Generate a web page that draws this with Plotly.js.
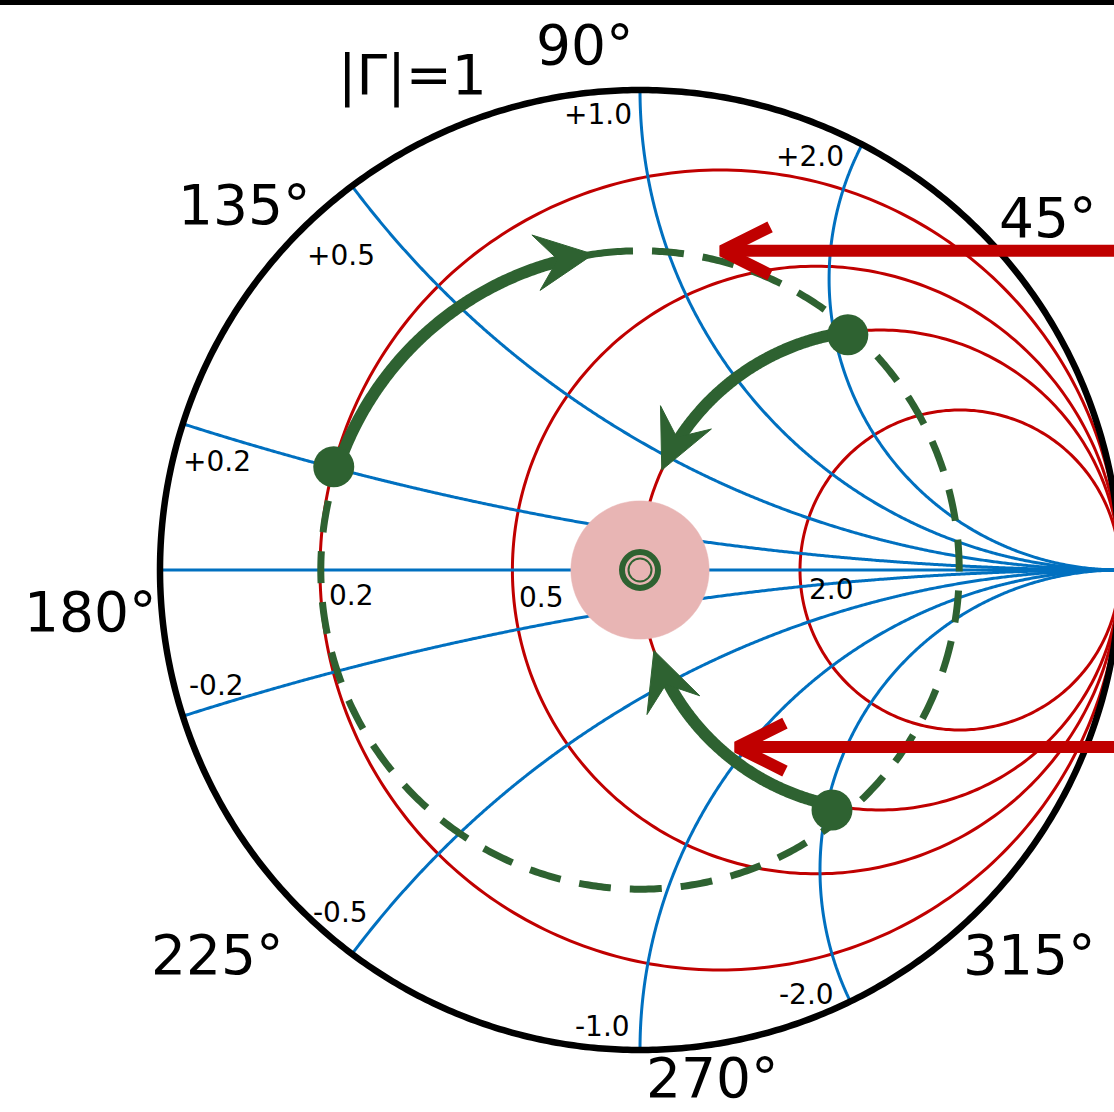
<!DOCTYPE html>
<html><head><meta charset="utf-8">
<script src="https://cdn.plot.ly/plotly-3.0.1.min.js"></script>
<style>html,body{margin:0;padding:0;background:#fff;overflow:hidden}</style>
</head><body><div id="chart" style="width:1114px;height:1112px"></div>
<script>
// ---- chart values (as drawn) ----
const resistanceValues = [0.2, 0.58, 1, 2];
const resistanceLabels = ['0.2', '0.5', '2.0'];
const reactanceValues = [0, 0.156, 0.5, 1, 1.65, -0.156, -0.5, -1, -1.6];
const reactanceLabels = ['+0.2', '+0.5', '+1.0', '+2.0', '-0.2', '-0.5', '-1.0', '-2.0'];
const angleLabels = ['90°', '135°', '45°', '180°', '225°', '315°', '270°'];
const unitCircleLabel = '|Γ|=1';
const gammaMagnitude = 0.665;              // constant |Γ| (dashed) circle
const pointRe = [-0.638, 0.433, 0.400];   // load points (Γ plane)
const pointIm = [0.215, 0.490, -0.500];
const sweepCircleKind = ['gamma', 'r', 'r'];
const sweepCircleValue = [0.665, 1, 1];
const sweepStartDeg = [161.4, 97.8, -101.3];
const sweepEndDeg = [98.4, 155.4, -160.4];
const matchRadius = 0.144;                 // matched region around centre
const incidentIm = [0.665, -0.369];        // red arrows
const incidentTipRe = [0.171, 0.202];

// ---- styles ----
const GREEN = '#2e6231', RED = '#c00000', BLUE = '#0070c0', PINK = '#e8b5b4';
const UNIT_PX = 480;
const FONT = 'DejaVu Sans, Noto Sans, sans-serif';

function circle(cx, cy, rad, a0, a1, n) {
  const xs = [], ys = [];
  for (let i = 0; i <= n; i++) {
    const a = (a0 + (a1 - a0) * i / n) * Math.PI / 180;
    xs.push(cx + rad * Math.cos(a)); ys.push(cy + rad * Math.sin(a));
  }
  return {x: xs, y: ys};
}
function gammaOf(r, x) { // (z-1)/(z+1)
  const ar = r - 1, br = r + 1;
  const d = br * br + x * x;
  return [(ar * br + x * x) / d, (x * br - ar * x) / d];
}
function ln(color, width, extra) { return Object.assign({color: color, width: width, simplify: false}, extra || {}); }

const traces = [];
// resistance circles
resistanceValues.forEach(r => {
  const c = circle(r / (1 + r), 0, 1 / (1 + r), 0, 360, 360);
  traces.push({type: 'scatter', mode: 'lines', x: c.x, y: c.y, line: ln(RED, 3), hoverinfo: 'skip'});
});
// reactance arcs
reactanceValues.forEach(xv => {
  const xs = [], ys = [];
  for (let i = 0; i < 600; i++) {
    const t = i / 600 * 0.9995;
    const g = gammaOf(t / (1 - t), xv);
    xs.push(g[0]); ys.push(g[1]);
  }
  xs.push(1); ys.push(0);
  traces.push({type: 'scatter', mode: 'lines', x: xs, y: ys, line: ln(BLUE, 3), hoverinfo: 'skip'});
});
// outer |Γ|=1 circle
const oc = circle(0, 0, 1, 0, 360, 720);
traces.push({type: 'scatter', mode: 'lines', x: oc.x, y: oc.y, line: ln('#000', 6.5), hoverinfo: 'skip'});
// matched region
const mc = circle(0, 0, matchRadius, 0, 360, 180);
traces.push({type: 'scatter', mode: 'lines', x: mc.x, y: mc.y, fill: 'toself', fillcolor: PINK, line: ln(PINK, 0.5), hoverinfo: 'skip'});
// dashed constant |Γ| circle
const dc = circle(0, 0, gammaMagnitude, 97, 97 - 360, 720);
traces.push({type: 'scatter', mode: 'lines', x: dc.x, y: dc.y, line: ln(GREEN, 7, {dash: '32px,19px'}), hoverinfo: 'skip'});
// solid sweeps with arrowheads
for (let k = 0; k < 3; k++) {
  const v = sweepCircleValue[k];
  let cx = 0, rad = v;
  if (sweepCircleKind[k] === 'r') { cx = v / (1 + v); rad = 1 / (1 + v); }
  const sgn = Math.sign(sweepEndDeg[k] - sweepStartDeg[k]);
  const back = (0.06 / rad) * 180 / Math.PI;
  const arc = circle(cx, 0, rad, sweepStartDeg[k], sweepEndDeg[k] - sgn * back, 160);
  traces.push({type: 'scatter', mode: 'lines', x: arc.x, y: arc.y, line: ln(GREEN, 12), hoverinfo: 'skip'});
  // arrow head at the end of the sweep
  const a = sweepEndDeg[k] * Math.PI / 180;
  const tx = cx + rad * Math.cos(a), ty = rad * Math.sin(a);
  const dx = -Math.sin(a) * sgn, dy = Math.cos(a) * sgn;
  const nx = -dy, ny = dx;
  const L = 58 / UNIT_PX, W = 28 / UNIT_PX, N = 36 / UNIT_PX;
  traces.push({type: 'scatter', mode: 'lines', fill: 'toself', fillcolor: GREEN,
    x: [tx, tx - L * dx + W * nx, tx - N * dx, tx - L * dx - W * nx, tx],
    y: [ty, ty - L * dy + W * ny, ty - N * dy, ty - L * dy - W * ny, ty],
    line: ln(GREEN, 1), hoverinfo: 'skip'});
}
// load points
traces.push({type: 'scatter', mode: 'markers', x: pointRe, y: pointIm,
  marker: {size: 41, color: GREEN, line: {width: 0}}, hoverinfo: 'skip'});
// centre ring
traces.push({type: 'scatter', mode: 'markers', x: [0], y: [0],
  marker: {size: 36, color: PINK, line: {color: GREEN, width: 6}}, hoverinfo: 'skip'});
traces.push({type: 'scatter', mode: 'markers', x: [0], y: [0],
  marker: {size: 23, color: PINK, line: {color: GREEN, width: 2}}, hoverinfo: 'skip'});
// incident red arrows
for (let k = 0; k < incidentIm.length; k++) {
  const y = incidentIm[k], t = incidentTipRe[k];
  traces.push({type: 'scatter', mode: 'lines', x: [t + 0.01, 1.2], y: [y, y], line: ln(RED, 12), hoverinfo: 'skip'});
  traces.push({type: 'scatter', mode: 'lines', x: [t + 0.1, t, t + 0.1], y: [y + 0.05, y, y - 0.05], line: ln(RED, 12), hoverinfo: 'skip'});
}

// ---- labels ----
const small = {family: FONT, size: 28, color: '#000'};
const big = {family: FONT, size: 55, color: '#000'};
const reactPos = [[-0.881, 0.227], [-0.623, 0.656], [-0.0875, 0.95], [0.354, 0.8625],
                  [-0.883, -0.240], [-0.625, -0.7125], [-0.079, -0.952], [0.346, -0.885]];
const resPos = [[-0.602, -0.054], [-0.206, -0.058], [0.398, -0.040]];
const angPos = [[-0.115, 1.094], [-0.825, 0.760], [0.85, 0.733], [-1.146, -0.0875],
                [-0.881, -0.802], [0.810, -0.802], [0.15, -1.058]];
const annotations = [];
reactanceLabels.forEach((t, i) => annotations.push({text: t, x: reactPos[i][0], y: reactPos[i][1], font: small}));
resistanceLabels.forEach((t, i) => annotations.push({text: t, x: resPos[i][0], y: resPos[i][1], font: small}));
angleLabels.forEach((t, i) => annotations.push({text: t, x: angPos[i][0], y: angPos[i][1], font: big}));
annotations.push({text: unitCircleLabel, x: -0.475, y: 1.031, font: big});
annotations.forEach(a => { a.xref = 'x'; a.yref = 'y'; a.showarrow = false; a.xanchor = 'center'; a.yanchor = 'middle'; });

const layout = {
  width: 1114, height: 1112,
  margin: {l: 0, r: 0, t: 0, b: 0, pad: 0},
  paper_bgcolor: '#fff', plot_bgcolor: '#fff',
  showlegend: false, hovermode: false,
  xaxis: {range: [-640 / 480, 474 / 480], visible: false, fixedrange: true},
  yaxis: {range: [-542 / 480, 570 / 480], visible: false, fixedrange: true},
  annotations: annotations,
  shapes: [{type: 'rect', xref: 'paper', yref: 'paper', x0: 0, x1: 1, y0: 1 - 5 / 1112, y1: 1.01,
            fillcolor: '#000', line: {width: 0}, layer: 'above'}]
};
Plotly.newPlot('chart', traces, layout, {staticPlot: true, displayModeBar: false});
</script>
</body></html>
